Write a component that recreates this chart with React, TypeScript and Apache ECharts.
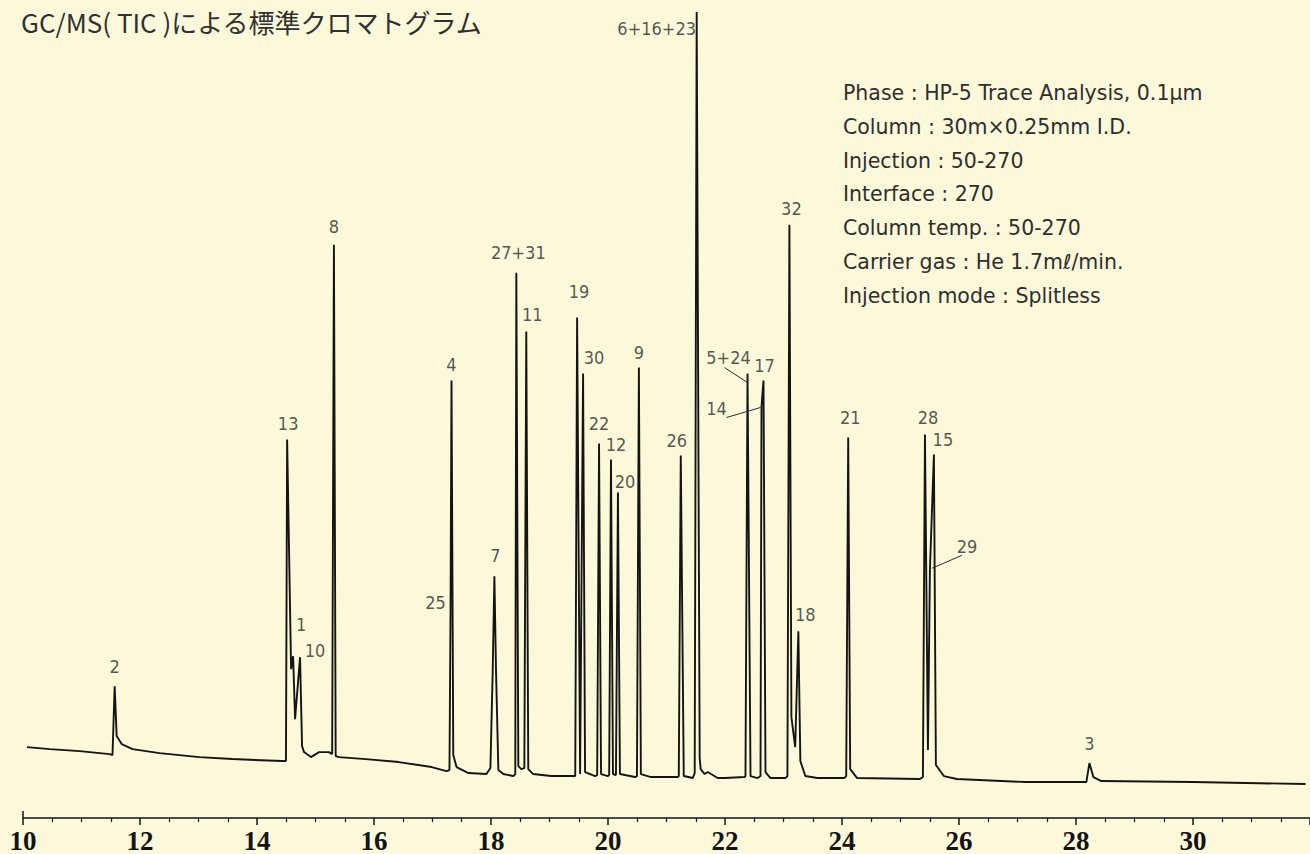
import { useEffect, useRef } from "react";
import * as echarts from "echarts";

// ---- data -----------------------------------------------------------------

const TITLE = "GC/MS( TIC )による標準クロマトグラム";

// Labelled peaks: compound number, retention time (min), TIC intensity (a.u.)
const PEAK_NAMES = [
  "2", "13", "1", "10", "8", "25", "4", "7", "27+31", "11", "19", "30", "22", "12",
  "20", "9", "26", "6+16+23", "5+24", "14", "17", "32", "18", "21", "28", "29", "15", "3",
];
const PEAK_TIMES = [
  11.567, 14.515, 14.617, 14.736, 15.315, 17.308, 17.325, 18.058, 18.433, 18.603, 19.472,
  19.574, 19.847, 20.051, 20.17, 20.528, 21.244, 21.516, 22.385, 22.624, 22.658, 23.101,
  23.254, 24.106, 25.418, 25.503, 25.571, 28.229,
];
const PEAK_HEIGHTS = [
  132, 379, 162, 161, 574, 203, 438, 242, 546, 487, 501, 445, 375, 359, 326, 451, 363, 807,
  445, 412, 438, 594, 187, 381, 384, 249, 364, 55,
];

// Baseline, peak feet and valleys of the TIC trace: [time (min), intensity]
const TRACE_VALLEYS: [number, number][] = [
  [10.068, 71], [10.46, 69], [10.971, 67], [11.482, 64], [11.53, 63],
  [11.601, 82], [11.687, 74], [11.874, 69], [12.334, 65], [13.015, 61], [13.578, 59],
  [14.429, 57], [14.495, 57],
  [14.583, 149],
  [14.651, 99],
  [14.77, 72], [14.804, 66], [14.923, 61], [15.06, 66], [15.23, 66], [15.285, 64],
  [15.345, 62], [15.4, 61], [15.86, 59], [16.423, 56], [16.985, 51], [17.24, 47], [17.29, 48],
  [17.355, 63], [17.411, 51], [17.615, 45], [17.922, 44], [17.99, 50], [18.03, 150],
  [18.085, 150], [18.126, 48], [18.211, 44], [18.382, 42], [18.415, 44],
  [18.467, 52], [18.518, 49], [18.57, 50],
  [18.637, 49], [18.722, 44], [19.029, 42], [19.44, 42],
  [19.523, 44],
  [19.608, 46], [19.779, 42], [19.815, 43],
  [19.881, 44], [20.0, 42], [20.02, 43],
  [20.085, 44], [20.136, 43],
  [20.204, 44], [20.46, 41], [20.495, 42],
  [20.562, 44], [20.733, 41], [21.193, 41], [21.21, 42],
  [21.295, 42], [21.448, 40], [21.482, 45],
  [21.567, 60], [21.584, 49], [21.653, 44], [21.704, 46], [21.874, 40], [21.993, 40],
  [22.334, 41], [22.35, 42],
  [22.436, 42], [22.556, 40], [22.607, 42],
  [22.692, 46], [22.777, 40], [23.033, 40], [23.067, 42],
  [23.135, 101], [23.2, 71],
  [23.288, 57], [23.373, 42], [23.578, 40], [24.038, 40], [24.072, 42],
  [24.14, 49], [24.259, 40], [25.332, 39], [25.383, 41],
  [25.469, 68],
  [25.605, 53], [25.741, 42], [25.963, 39], [27.138, 36], [28.177, 36],
  [28.297, 41], [28.433, 37], [30.0, 36], [31.925, 34],
];

// Analytical conditions
const CONDITIONS = [
  "Phase : HP-5 Trace Analysis, 0.1μm",
  "Column : 30m×0.25mm I.D.",
  "Injection : 50-270",
  "Interface : 270",
  "Column temp. : 50-270",
  "Carrier gas : He 1.7mℓ/min.",
  "Injection mode : Splitless",
];

// ---- layout / style -------------------------------------------------------

const BG = "#fcf9da";
const INK = "#141414";
const TEXT = "#2b2b2b";
const LABEL_FONT = "'Liberation Sans Narrow', 'DejaVu Sans Condensed', Roboto, sans-serif";

// Peak label centre relative to the apex, in pixels
const LABEL_OFFSETS: Record<string, [number, number]> = {
  "2": [0, -20], "13": [1, -16], "1": [8, -32], "10": [15, -7], "8": [0, -18],
  "25": [-15, -13], "4": [0, -16], "7": [1, -21], "27+31": [2, -20], "11": [6, -17],
  "19": [2, -26], "30": [11, -16], "22": [0, -20], "12": [5, -15], "20": [7, -11],
  "9": [0, -15], "26": [-4, -15], "6+16+23": [-40, 16], "5+24": [-19, -16],
  "14": [-45, 2], "17": [1, -15], "32": [2, -16], "18": [7, -17], "21": [2, -20],
  "28": [3, -17], "29": [37, -23], "15": [9, -15], "3": [0, -20],
};

// Leader lines from a label to its peak: two points relative to the apex, in pixels
const LEADERS: Record<string, [[number, number], [number, number]]> = {
  "5+24": [[-23, -6], [0, 9]],
  "14": [[-35, 11], [-1, 1]],
  "29": [[2, -1], [32, -14]],
};

export default function App() {
  const ref = useRef<HTMLDivElement>(null);

  useEffect(() => {
    const el = ref.current;
    if (!el) return;
    const chart = echarts.init(el, null, { renderer: "svg" });

    const apexes: [number, number][] = PEAK_NAMES.map((_, i) => [PEAK_TIMES[i], PEAK_HEIGHTS[i]]);
    const trace = [...TRACE_VALLEYS, ...apexes].sort((a, b) => a[0] - b[0]);

    chart.setOption({
      animation: false,
      backgroundColor: BG,
      title: {
        text: TITLE,
        left: 16,
        top: 3,
        textStyle: {
          fontFamily: "'Noto Sans CJK JP', sans-serif",
          fontSize: 26,
          fontWeight: "normal",
          color: "#303030",
        },
      },
      // the time axis runs on past the right edge, up to 32 min
      grid: { left: 23, width: 1291, top: 12, bottom: 35, containLabel: false },
      xAxis: {
        type: "value",
        min: 10,
        max: 32,
        interval: 2,
        position: "bottom",
        axisLine: { onZero: false, lineStyle: { color: INK, width: 1.6 } },
        axisTick: { show: true, length: 7, lineStyle: { color: INK, width: 1.5 } },
        minorTick: { show: true, splitNumber: 4, length: 4, lineStyle: { color: INK, width: 1.2 } },
        splitLine: { show: false },
        minorSplitLine: { show: false },
        axisLabel: {
          fontFamily: "'Liberation Serif', serif",
          fontWeight: "bold",
          fontSize: 27,
          color: INK,
          margin: 9,
          showMaxLabel: false,
        },
      },
      yAxis: { type: "value", min: 0, max: 807, show: false },
      series: [
        {
          type: "line",
          data: trace,
          symbol: "none",
          silent: true,
          clip: false,
          lineStyle: { color: INK, width: 1.9 },
          z: 2,
        },
        {
          type: "scatter",
          silent: true,
          symbolSize: 1,
          itemStyle: { color: "transparent" },
          emphasis: { disabled: true },
          z: 3,
          label: {
            show: true,
            position: "inside",
            formatter: "{b}",
            fontFamily: LABEL_FONT,
            fontSize: 18,
            color: TEXT,
            align: "center",
            verticalAlign: "middle",
          },
          data: PEAK_NAMES.map((n, i) => ({
            name: n,
            value: [PEAK_TIMES[i], PEAK_HEIGHTS[i]],
            label: { offset: LABEL_OFFSETS[n] || [0, -16] },
          })),
        },
      ],
    });

    const toPx = (p: number[]) =>
      chart.convertToPixel({ xAxisIndex: 0, yAxisIndex: 0 }, p) as number[];

    const graphics: any[] = [];

    // leader lines
    Object.keys(LEADERS).forEach((name) => {
      const i = PEAK_NAMES.indexOf(name);
      const [ax, ay] = toPx([PEAK_TIMES[i], PEAK_HEIGHTS[i]]);
      const [[dx1, dy1], [dx2, dy2]] = LEADERS[name];
      graphics.push({
        type: "line",
        silent: true,
        shape: { x1: ax + dx1, y1: ay + dy1, x2: ax + dx2, y2: ay + dy2 },
        style: { stroke: TEXT, lineWidth: 1 },
        z: 10,
      });
    });

    // start tick of the time axis reaches above the axis line
    const [sx, sy] = toPx([10, 0]);
    graphics.push({
      type: "line",
      silent: true,
      shape: { x1: sx, y1: sy - 7, x2: sx, y2: sy },
      style: { stroke: INK, lineWidth: 1.5 },
      z: 10,
    });

    // analytical conditions block
    CONDITIONS.forEach((line, k) => {
      graphics.push({
        type: "text",
        silent: true,
        x: 843,
        y: 93 + k * 33.8,
        style: {
          text: line,
          fill: "#2e2e2e",
          fontFamily: "'DejaVu Sans', sans-serif",
          fontSize: 20.5,
          textVerticalAlign: "middle",
        },
        z: 10,
      });
    });

    chart.setOption({ graphic: graphics });

    return () => chart.dispose();
  }, []);

  return (
    <div
      ref={ref}
      style={{ position: "fixed", left: 0, top: 0, width: 1310, height: 854, background: BG }}
    />
  );
}
